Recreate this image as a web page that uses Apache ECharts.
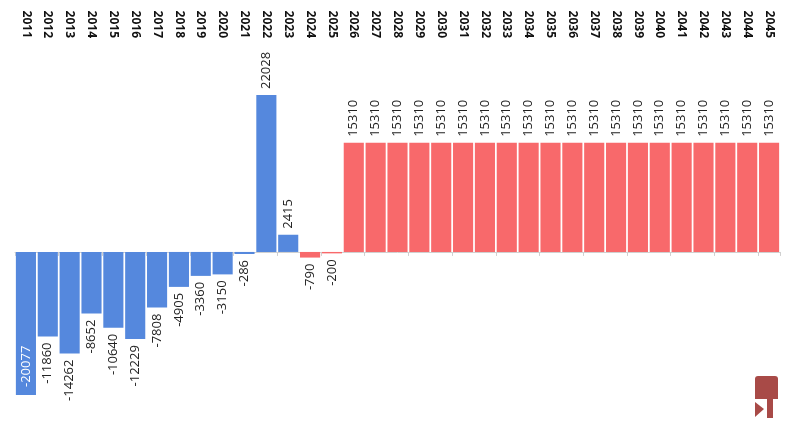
<!DOCTYPE html>
<html>
<head>
<meta charset="utf-8">
<script src="https://cdn.jsdelivr.net/npm/echarts@6/dist/echarts.min.js"></script>
<style>
  html, body { margin: 0; padding: 0; background: #fff; }
  #main { width: 795px; height: 431px; }
</style>
</head>
<body>
<div id="main"></div>
<script>
// years and yearly balance
var years = ['2011', '2012', '2013', '2014', '2015', '2016', '2017', '2018', '2019', '2020',
  '2021', '2022', '2023', '2024', '2025', '2026', '2027', '2028', '2029', '2030',
  '2031', '2032', '2033', '2034', '2035', '2036', '2037', '2038', '2039', '2040',
  '2041', '2042', '2043', '2044', '2045'];
var values = [-20077, -11860, -14262, -8652, -10640, -12229, -7808, -4905, -3360, -3150,
  -286, 22028, 2415, -790, -200, 15310, 15310, 15310, 15310, 15310,
  15310, 15310, 15310, 15310, 15310, 15310, 15310, 15310, 15310, 15310,
  15310, 15310, 15310, 15310, 15310];
// from this year on the bars are red
var firstRedYear = 2024;

var blue = '#5588dd';
var red = '#f8696b';
var fontFamily = '"Open Sans", "Noto Sans", sans-serif';

var myChart = echarts.init(document.getElementById('main'));

var minVal = Math.min.apply(null, values);
var maxVal = Math.max.apply(null, values);

var barData = values.map(function (v, i) {
  var isRed = Number(years[i]) >= firstRedYear;
  var label;
  if (v === minVal) {
    // biggest negative bar: label inside, white
    label = { position: 'insideBottom', align: 'left', distance: 8, color: '#fff' };
  } else if (v < 0) {
    label = { position: 'bottom', align: 'right', distance: 6 };
  } else {
    label = { position: 'top', align: 'left', distance: 6 };
  }
  return {
    value: v,
    itemStyle: { color: isRed ? red : blue },
    label: label
  };
});

var option = {
  animation: false,
  textStyle: { fontFamily: fontFamily },
  grid: { left: 15, right: 15, top: 95, bottom: 36 },
  xAxis: [
    {
      type: 'category',
      data: years,
      position: 'top',
      axisLine: { show: false, onZero: false },
      axisTick: { show: false },
      axisLabel: {
        rotate: 90,
        margin: 57,
        fontSize: 12,
        fontWeight: 'bold',
        color: '#111',
        fontFamily: fontFamily
      }
    },
    {
      type: 'category',
      data: years,
      position: 'bottom',
      axisLine: { show: true, onZero: true, lineStyle: { color: '#d0d0d0', width: 1 } },
      axisTick: { show: true, length: 4, lineStyle: { color: '#d0d0d0' } },
      axisLabel: { show: false }
    }
  ],
  yAxis: {
    type: 'value',
    min: minVal,
    max: maxVal,
    show: false,
    splitLine: { show: false }
  },
  series: [{
    type: 'bar',
    xAxisIndex: 0,
    data: barData,
    barCategoryGap: '8%',
    label: {
      show: true,
      rotate: 90,
      verticalAlign: 'middle',
      fontSize: 13,
      color: '#222',
      fontFamily: fontFamily
    }
  }],
  graphic: [
    {
      type: 'group',
      left: 755,
      top: 376,
      children: [
        { type: 'rect', shape: { x: 0, y: 0, width: 23, height: 23, r: [3, 3, 0, 0] }, style: { fill: '#a84a47' } },
        { type: 'polygon', shape: { points: [[0, 26], [9, 33], [0, 41]] }, style: { fill: '#a84a47' } },
        { type: 'rect', shape: { x: 12, y: 23, width: 6, height: 19 }, style: { fill: '#a84a47' } }
      ]
    }
  ]
};

myChart.setOption(option);
</script>
</body>
</html>
